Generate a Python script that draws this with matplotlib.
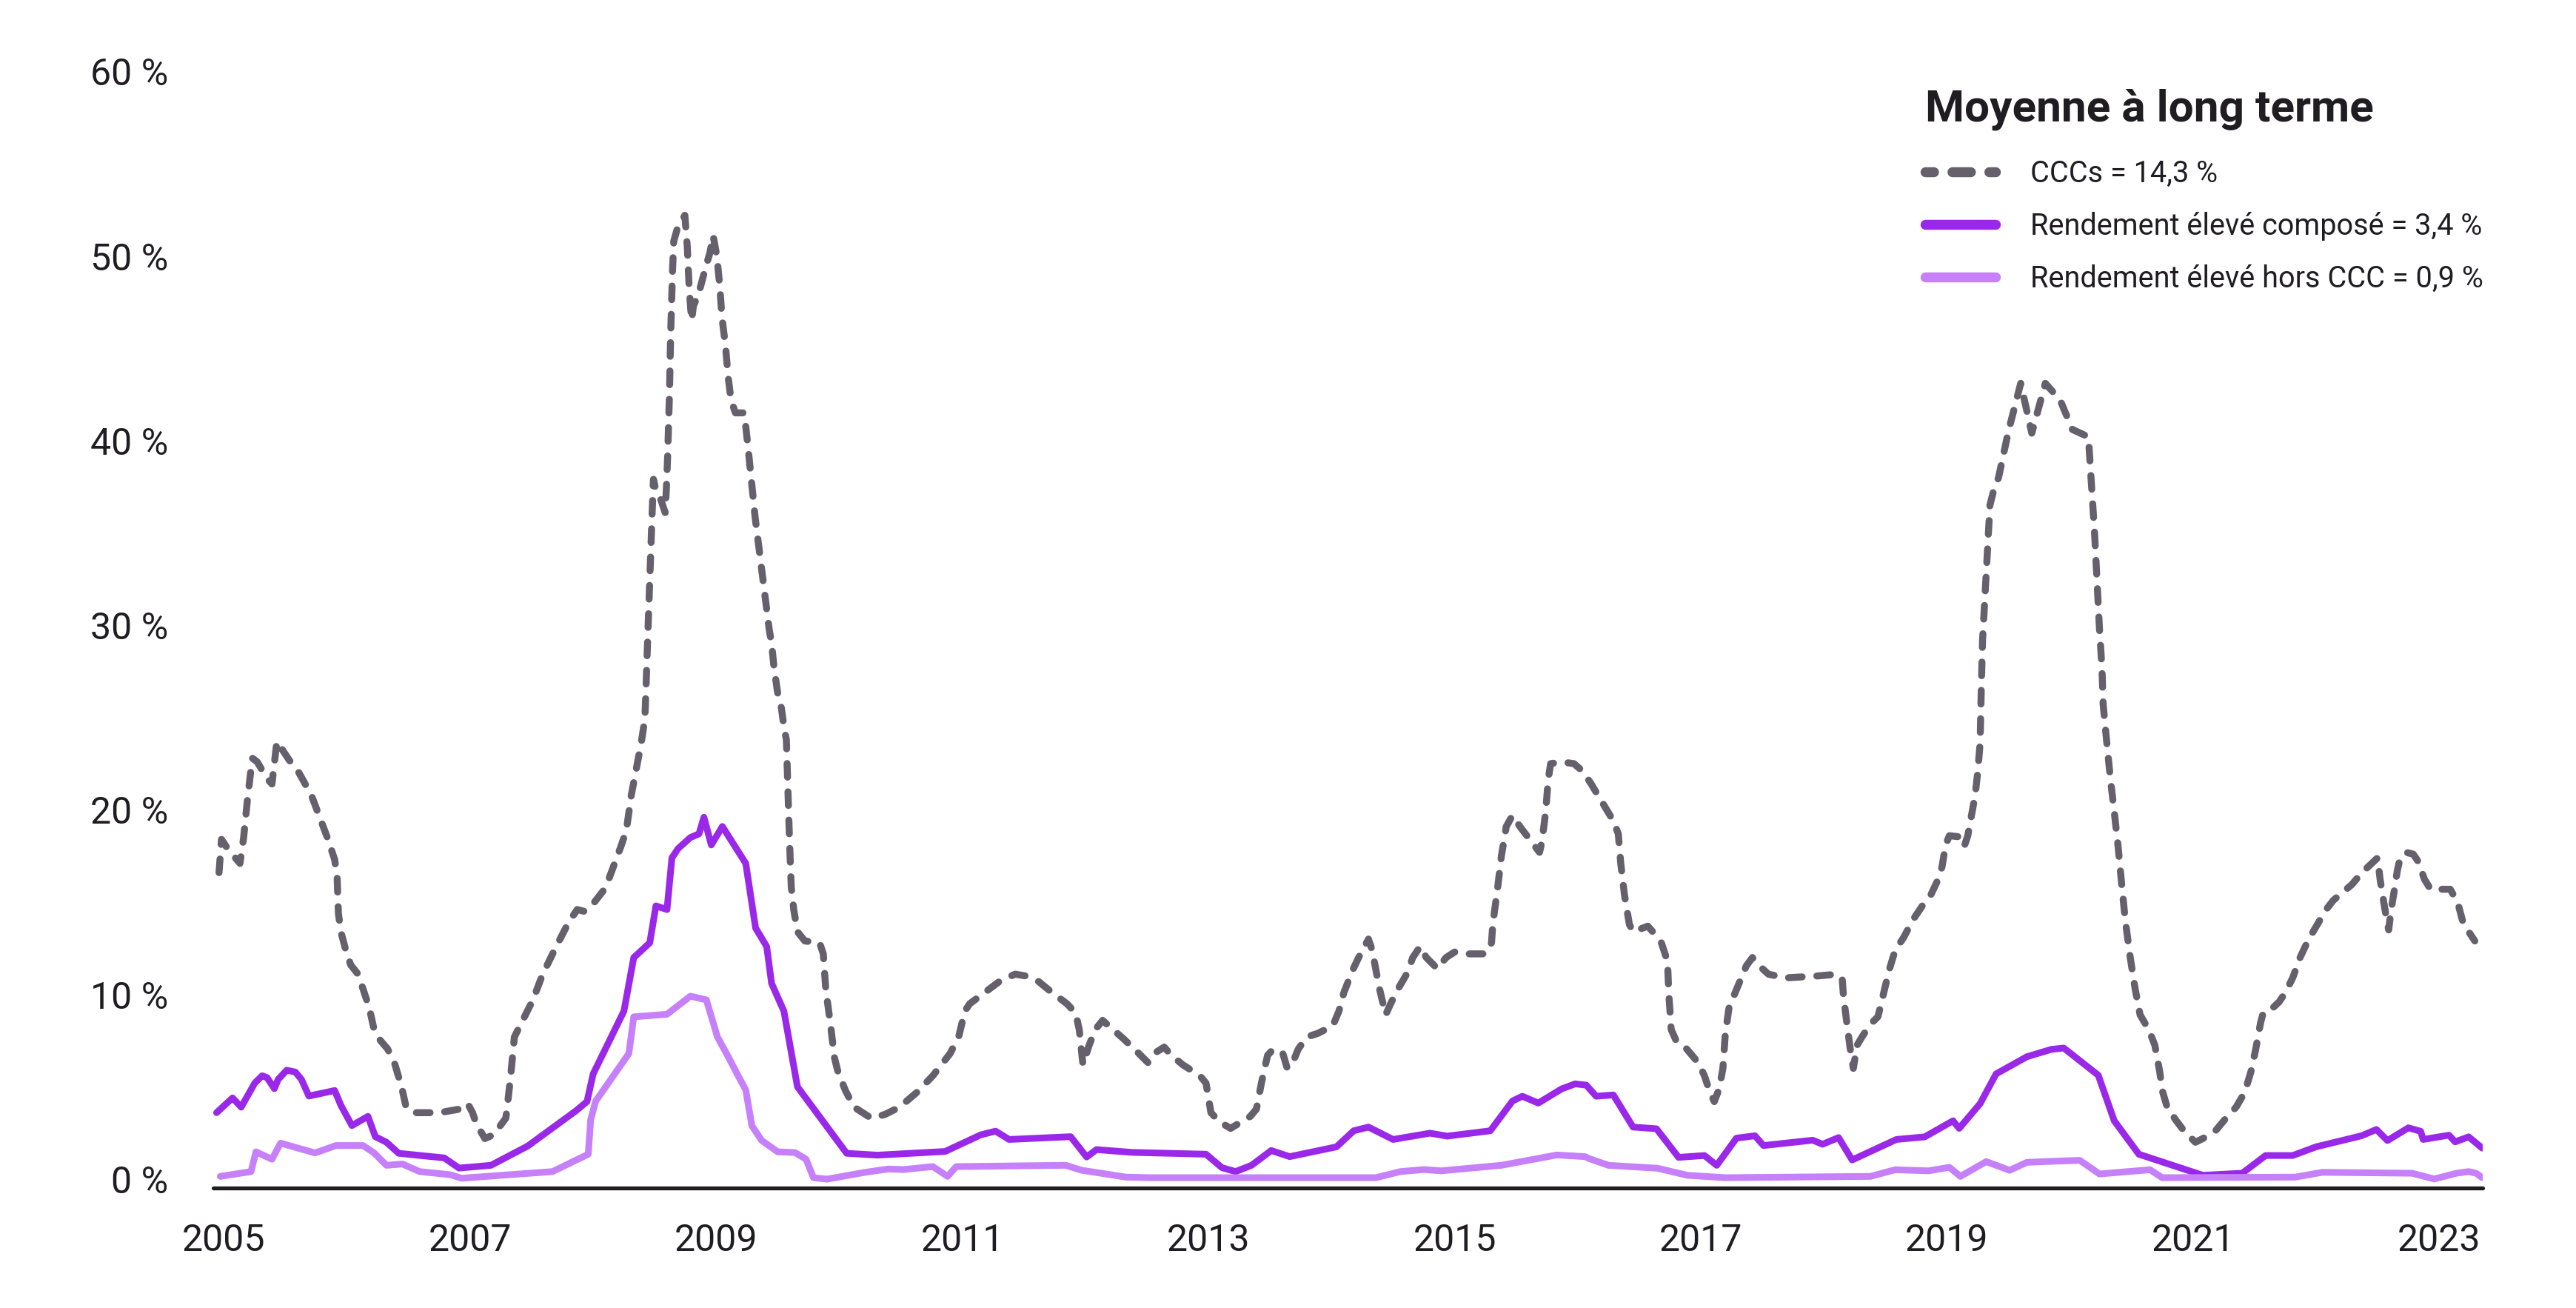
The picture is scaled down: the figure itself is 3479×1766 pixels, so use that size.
import matplotlib
matplotlib.use("Agg")
import matplotlib.pyplot as plt
from matplotlib.lines import Line2D

plt.rcParams["font.family"] = ["Roboto", "DejaVu Sans"]

# Default rates in %, (decimal year, value)
ccc_points = [
    (2004.96, 16.6), (2004.98, 18.4), (2005.02, 18.0), (2005.08, 17.5), (2005.13, 17.1),
    (2005.16, 18.5), (2005.19, 20.5), (2005.23, 22.8), (2005.27, 22.6), (2005.35, 21.7),
    (2005.39, 21.4), (2005.43, 23.7), (2005.46, 23.4), (2005.53, 22.7), (2005.61, 22.0),
    (2005.71, 20.8), (2005.84, 18.5), (2005.90, 17.3), (2005.92, 16.3), (2005.93, 14.4),
    (2005.95, 13.4), (2005.99, 12.4), (2006.03, 11.6), (2006.09, 11.1), (2006.14, 10.1),
    (2006.18, 9.3), (2006.22, 8.1), (2006.26, 7.6), (2006.33, 7.05), (2006.39, 6.2),
    (2006.43, 5.3), (2006.45, 4.8), (2006.48, 3.9), (2006.54, 3.6), (2006.75, 3.6),
    (2006.92, 3.8), (2006.98, 4.1), (2007.02, 3.6), (2007.05, 3.0), (2007.12, 2.2),
    (2007.19, 2.4), (2007.29, 3.3), (2007.30, 3.8), (2007.33, 5.6), (2007.36, 7.7),
    (2007.42, 8.5), (2007.51, 9.7), (2007.59, 11.1), (2007.70, 12.6), (2007.80, 13.9),
    (2007.87, 14.6), (2007.93, 14.5), (2008.01, 15.0), (2008.08, 15.6), (2008.13, 16.3),
    (2008.18, 17.2), (2008.23, 18.1), (2008.27, 18.9), (2008.31, 20.8), (2008.35, 22.2),
    (2008.39, 23.6), (2008.42, 24.9), (2008.43, 26.7), (2008.44, 28.7), (2008.48, 36.2),
    (2008.49, 37.9), (2008.51, 37.3), (2008.545, 36.9), (2008.585, 36.1), (2008.595, 37.4),
    (2008.605, 39.1), (2008.62, 42.5), (2008.63, 45.8), (2008.645, 49.2), (2008.655, 50.8),
    (2008.685, 51.5), (2008.745, 52.2), (2008.765, 50.5), (2008.78, 48.3), (2008.80, 46.5),
    (2008.815, 47.3), (2008.855, 47.9), (2008.915, 49.4), (2008.95, 50.2), (2008.975, 51.1),
    (2009.005, 50.0), (2009.03, 48.3), (2009.046, 46.7), (2009.076, 45.1), (2009.096, 43.5),
    (2009.12, 42.2), (2009.156, 41.5), (2009.226, 41.5), (2009.236, 41.0), (2009.256, 39.8),
    (2009.276, 38.5), (2009.297, 37.1), (2009.317, 35.8), (2009.43, 29.8), (2009.45, 29.0),
    (2009.47, 27.7), (2009.50, 26.3), (2009.53, 25.5), (2009.55, 24.5), (2009.57, 23.8),
    (2009.58, 21.6), (2009.59, 19.5), (2009.60, 17.5), (2009.61, 15.8), (2009.63, 14.6),
    (2009.66, 13.4), (2009.72, 12.9), (2009.84, 12.8), (2009.87, 12.2), (2009.89, 10.3),
    (2009.93, 8.3), (2009.96, 6.6), (2009.99, 5.8), (2010.05, 4.8), (2010.12, 3.9),
    (2010.26, 3.3), (2010.37, 3.5), (2010.49, 3.9), (2010.63, 4.7), (2010.76, 5.6),
    (2010.90, 6.8), (2010.97, 7.7), (2011.02, 9.1), (2011.06, 9.5), (2011.18, 10.1),
    (2011.32, 10.8), (2011.43, 11.1), (2011.52, 11.0), (2011.62, 10.7), (2011.73, 10.1),
    (2011.85, 9.5), (2011.92, 9.0), (2011.95, 8.1), (2011.98, 6.2), (2012.03, 7.25),
    (2012.08, 8.1), (2012.14, 8.6), (2012.19, 8.3), (2012.31, 7.6), (2012.42, 6.9),
    (2012.51, 6.3), (2012.58, 6.9), (2012.64, 7.15), (2012.70, 6.7), (2012.79, 6.2),
    (2012.93, 5.6), (2012.98, 5.2), (2013.02, 3.6), (2013.09, 3.1), (2013.18, 2.75),
    (2013.34, 3.4), (2013.39, 3.8), (2013.43, 5.2), (2013.48, 6.7), (2013.52, 7.0),
    (2013.60, 6.9), (2013.64, 6.0), (2013.69, 6.4), (2013.73, 7.05), (2013.80, 7.7),
    (2013.89, 7.9), (2014.01, 8.3), (2014.06, 9.1), (2014.10, 10.1), (2014.17, 11.3),
    (2014.22, 12.0), (2014.30, 13.0), (2014.33, 12.4), (2014.39, 10.3), (2014.44, 8.9),
    (2014.48, 9.5), (2014.54, 10.3), (2014.61, 11.1), (2014.66, 12.0), (2014.72, 12.6),
    (2014.77, 12.0), (2014.86, 11.4), (2014.93, 12.0), (2015.00, 12.3), (2015.09, 12.2),
    (2015.25, 12.2), (2015.30, 12.8), (2015.31, 13.8), (2015.35, 15.8), (2015.38, 17.5),
    (2015.42, 19.1), (2015.47, 19.7), (2015.53, 19.1), (2015.61, 18.4), (2015.69, 17.7),
    (2015.71, 18.3), (2015.74, 19.9), (2015.76, 21.6), (2015.78, 22.5), (2015.87, 22.6),
    (2015.97, 22.5), (2016.04, 22.1), (2016.11, 21.4), (2016.20, 20.4), (2016.29, 19.4),
    (2016.33, 18.7), (2016.35, 17.1), (2016.38, 15.4), (2016.42, 13.8), (2016.45, 13.4),
    (2016.57, 13.7), (2016.61, 13.4), (2016.68, 12.8), (2016.73, 11.8), (2016.74, 10.1),
    (2016.76, 8.1), (2016.80, 7.5), (2016.86, 7.25), (2016.93, 6.7), (2016.98, 6.3),
    (2017.03, 5.6), (2017.07, 4.8), (2017.11, 4.2), (2017.15, 4.9), (2017.18, 6.0),
    (2017.20, 7.9), (2017.23, 9.3), (2017.28, 10.1), (2017.33, 10.9), (2017.37, 11.55),
    (2017.42, 12.0), (2017.46, 11.65), (2017.55, 11.1), (2017.69, 10.9), (2017.94, 11.0),
    (2018.11, 11.1), (2018.15, 10.8), (2018.16, 9.9), (2018.19, 8.3), (2018.22, 6.8),
    (2018.24, 6.0), (2018.27, 7.25), (2018.31, 7.7), (2018.38, 8.4), (2018.44, 8.8),
    (2018.48, 9.9), (2018.53, 11.3), (2018.58, 12.4), (2018.65, 13.1), (2018.72, 14.0),
    (2018.80, 14.8), (2018.87, 15.4), (2018.93, 16.25), (2018.96, 16.9), (2018.99, 18.1),
    (2019.02, 18.6), (2019.09, 18.55), (2019.14, 18.0), (2019.17, 18.6), (2019.20, 19.7),
    (2019.23, 20.8), (2019.25, 22.0), (2019.27, 23.6), (2019.28, 26.7), (2019.29, 29.2),
    (2019.35, 36.5), (2019.38, 37.3), (2019.42, 38.0), (2019.50, 40.5), (2019.60, 43.1),
    (2019.69, 40.4), (2019.80, 43.1), (2019.92, 42.2), (2020.02, 40.6), (2020.15, 40.2),
    (2020.20, 35.0), (2020.24, 29.8), (2020.26, 27.7), (2020.27, 25.7), (2020.30, 23.6),
    (2020.33, 21.6), (2020.36, 19.9), (2020.39, 18.1), (2020.42, 16.0), (2020.45, 14.0),
    (2020.49, 12.0), (2020.53, 10.3), (2020.57, 8.9), (2020.64, 8.1), (2020.69, 7.25),
    (2020.73, 5.8), (2020.75, 4.8), (2020.79, 3.9), (2020.86, 3.2), (2020.94, 2.5),
    (2021.02, 2.0), (2021.08, 2.2), (2021.18, 2.6), (2021.28, 3.4), (2021.35, 3.9),
    (2021.42, 4.7), (2021.47, 5.8), (2021.51, 7.05), (2021.55, 8.5), (2021.57, 9.0),
    (2021.62, 9.1), (2021.70, 9.6), (2021.75, 10.1), (2021.81, 10.9), (2021.87, 12.0),
    (2021.94, 13.0), (2022.02, 13.9), (2022.07, 14.5), (2022.14, 15.1), (2022.21, 15.5),
    (2022.29, 15.95), (2022.36, 16.5), (2022.42, 16.9), (2022.50, 17.4), (2022.52, 16.25),
    (2022.55, 15.0), (2022.57, 14.2), (2022.59, 13.5), (2022.61, 14.6), (2022.63, 15.4),
    (2022.66, 16.7), (2022.68, 17.3), (2022.73, 17.7), (2022.79, 17.6), (2022.83, 17.2),
    (2022.88, 16.25), (2022.93, 15.7), (2023.09, 15.7), (2023.15, 15.0), (2023.19, 14.0),
    (2023.24, 13.4), (2023.29, 12.9),
]

composite_points = [
    (2004.94, 3.6), (2005.07, 4.4), (2005.14, 3.9), (2005.25, 5.2), (2005.31, 5.6),
    (2005.35, 5.5), (2005.41, 4.9), (2005.44, 5.4), (2005.51, 5.9), (2005.58, 5.8),
    (2005.63, 5.4), (2005.69, 4.5), (2005.90, 4.8), (2005.95, 4.0), (2006.04, 2.9),
    (2006.17, 3.4), (2006.23, 2.3), (2006.32, 2.0), (2006.42, 1.4), (2006.79, 1.15),
    (2006.91, 0.6), (2007.17, 0.75), (2007.47, 1.8), (2007.86, 3.7), (2007.95, 4.2),
    (2008.00, 5.7), (2008.25, 9.1), (2008.33, 12.0), (2008.46, 12.8), (2008.51, 14.8),
    (2008.60, 14.6), (2008.64, 17.4), (2008.69, 17.9), (2008.79, 18.5), (2008.86, 18.7),
    (2008.90, 19.6), (2008.96, 18.1), (2009.05, 19.1), (2009.24, 17.1), (2009.32, 13.6),
    (2009.41, 12.6), (2009.45, 10.6), (2009.55, 9.1), (2009.66, 5.0), (2010.06, 1.4),
    (2010.31, 1.3), (2010.86, 1.5), (2011.15, 2.4), (2011.27, 2.6), (2011.38, 2.15),
    (2011.88, 2.3), (2012.01, 1.2), (2012.09, 1.6), (2012.38, 1.45), (2012.98, 1.35),
    (2013.11, 0.62), (2013.22, 0.41), (2013.35, 0.75), (2013.51, 1.55), (2013.66, 1.22),
    (2014.04, 1.75), (2014.18, 2.62), (2014.30, 2.82), (2014.50, 2.15), (2014.80, 2.49),
    (2014.94, 2.33), (2015.29, 2.62), (2015.47, 4.23), (2015.55, 4.49), (2015.68, 4.12),
    (2015.87, 4.89), (2015.98, 5.16), (2016.07, 5.09), (2016.15, 4.49), (2016.29, 4.56),
    (2016.45, 2.82), (2016.64, 2.73), (2016.82, 1.18), (2017.03, 1.28), (2017.13, 0.75),
    (2017.29, 2.22), (2017.44, 2.35), (2017.51, 1.82), (2017.91, 2.11), (2017.99, 1.89),
    (2018.12, 2.25), (2018.23, 1.04), (2018.59, 2.15), (2018.82, 2.29), (2019.05, 3.16),
    (2019.10, 2.75), (2019.27, 4.09), (2019.40, 5.70), (2019.65, 6.63), (2019.85, 7.03),
    (2019.95, 7.10), (2020.23, 5.63), (2020.36, 3.16), (2020.56, 1.35), (2021.08, 0.21),
    (2021.40, 0.32), (2021.59, 1.28), (2021.81, 1.28), (2022.00, 1.75), (2022.37, 2.35),
    (2022.49, 2.69), (2022.58, 2.09), (2022.75, 2.78), (2022.85, 2.59), (2022.87, 2.15),
    (2023.08, 2.38), (2023.13, 2.02), (2023.24, 2.29), (2023.35, 1.68),
]

ex_ccc_points = [
    (2004.97, 0.15), (2005.22, 0.41), (2005.26, 1.48), (2005.39, 1.08), (2005.46, 1.95),
    (2005.74, 1.42), (2005.91, 1.82), (2006.13, 1.82), (2006.22, 1.42), (2006.32, 0.75),
    (2006.45, 0.82), (2006.59, 0.41), (2006.84, 0.24), (2006.93, 0.05), (2007.67, 0.41),
    (2007.96, 1.35), (2007.98, 3.22), (2008.02, 4.22), (2008.29, 6.8), (2008.33, 8.79),
    (2008.60, 8.93), (2008.79, 9.91), (2008.92, 9.71), (2009.01, 7.7), (2009.10, 6.6),
    (2009.17, 5.7), (2009.24, 4.83), (2009.29, 2.89), (2009.37, 2.09), (2009.50, 1.48),
    (2009.64, 1.44), (2009.73, 1.08), (2009.79, 0.08), (2009.90, 0.0), (2010.21, 0.37),
    (2010.40, 0.55), (2010.52, 0.52), (2010.76, 0.68), (2010.88, 0.15), (2010.95, 0.68),
    (2011.84, 0.75), (2011.97, 0.48), (2012.04, 0.41), (2012.33, 0.11), (2012.52, 0.08),
    (2014.36, 0.08), (2014.56, 0.41), (2014.75, 0.52), (2014.89, 0.45), (2015.38, 0.75),
    (2015.83, 1.31), (2016.06, 1.22), (2016.09, 1.12), (2016.25, 0.75), (2016.65, 0.59),
    (2016.89, 0.21), (2017.20, 0.08), (2018.38, 0.15), (2018.58, 0.51), (2018.85, 0.45),
    (2019.02, 0.64), (2019.11, 0.15), (2019.32, 0.95), (2019.51, 0.48), (2019.65, 0.91),
    (2019.79, 0.95), (2020.08, 1.02), (2020.24, 0.28), (2020.65, 0.51), (2020.75, 0.08),
    (2021.83, 0.11), (2022.05, 0.37), (2022.78, 0.32), (2022.96, 0.01), (2023.14, 0.32),
    (2023.24, 0.41), (2023.30, 0.32), (2023.35, 0.08),
]

year_ticks = list(range(2005, 2024, 2))
pct_ticks = [0, 10, 20, 30, 40, 50, 60]

legend_title = "Moyenne à long terme"
series_labels = [
    "CCCs = 14,3 %",
    "Rendement élevé composé = 3,4 %",
    "Rendement élevé hors CCC = 0,9 %",
]

CCC_COLOR = "#65606b"
COMP_COLOR = "#9a28e9"
EXCL_COLOR = "#c680fa"
TEXT = "#1f1d22"

W, H, DPI = 3480, 1766, 100
fig = plt.figure(figsize=(W / DPI, H / DPI), dpi=DPI)

# plot area in pixels (baseline start/end, baseline y, top)
left, right, bottom, top = 288, 3353, 1604, 84
ax = fig.add_axes([left / W, 1 - bottom / H, (right - left) / W, (bottom - top) / H])
ax.set_xlim(2004.913, 2023.354)
ax.set_ylim(-0.48, 60.49)

ccc_x, ccc_y = zip(*ccc_points)
comp_x, comp_y = zip(*composite_points)
excl_x, excl_y = zip(*ex_ccc_points)

ax.plot(ccc_x, ccc_y, color=CCC_COLOR, lw=6.8, linestyle=(0, (1.95, 2.1)),
        dash_capstyle="round", dash_joinstyle="round", zorder=2)
ax.plot(comp_x, comp_y, color=COMP_COLOR, lw=6.5, solid_capstyle="round",
        solid_joinstyle="round", zorder=3)
ax.plot(excl_x, excl_y, color=EXCL_COLOR, lw=6.5, solid_capstyle="round",
        solid_joinstyle="round", zorder=4)

for side in ("left", "right", "top"):
    ax.spines[side].set_visible(False)
ax.spines["bottom"].set_color(TEXT)
ax.spines["bottom"].set_linewidth(3.8)
ax.spines["bottom"].set_capstyle("round")

ax.set_yticks(pct_ticks)
ax.set_yticklabels([f"{v} %" for v in pct_ticks])
ax.set_xticks(year_ticks)
ax.set_xticklabels([str(y) for y in year_ticks])
ax.tick_params(axis="y", length=0, pad=44, labelsize=36, labelcolor=TEXT)
ax.tick_params(axis="x", length=0, pad=34, labelsize=36, labelcolor=TEXT)

handles = [
    Line2D([], [], color=CCC_COLOR, lw=9.7, linestyle=(1.0, (1.85, 1.85)),
           dash_capstyle="round"),
    Line2D([], [], color=COMP_COLOR, lw=9.7, solid_capstyle="round"),
    Line2D([], [], color=EXCL_COLOR, lw=9.7, solid_capstyle="round"),
]
leg = ax.legend(handles, series_labels, title=legend_title, loc="upper left",
                bbox_to_anchor=(2600 / W, 1 - 120 / H), bbox_transform=fig.transFigure,
                frameon=False, fontsize=28.5,
                title_fontproperties={"weight": "bold", "size": 43.5},
                alignment="left", handlelength=2.39, handletextpad=1.19,
                labelspacing=0.8, borderpad=0, borderaxespad=0)
# a little more room between the title and the first entry
leg._legend_box.sep += 5
for t in leg.get_texts():
    t.set_color(TEXT)
leg.get_title().set_color(TEXT)

fig.savefig("out.png", dpi=DPI)
